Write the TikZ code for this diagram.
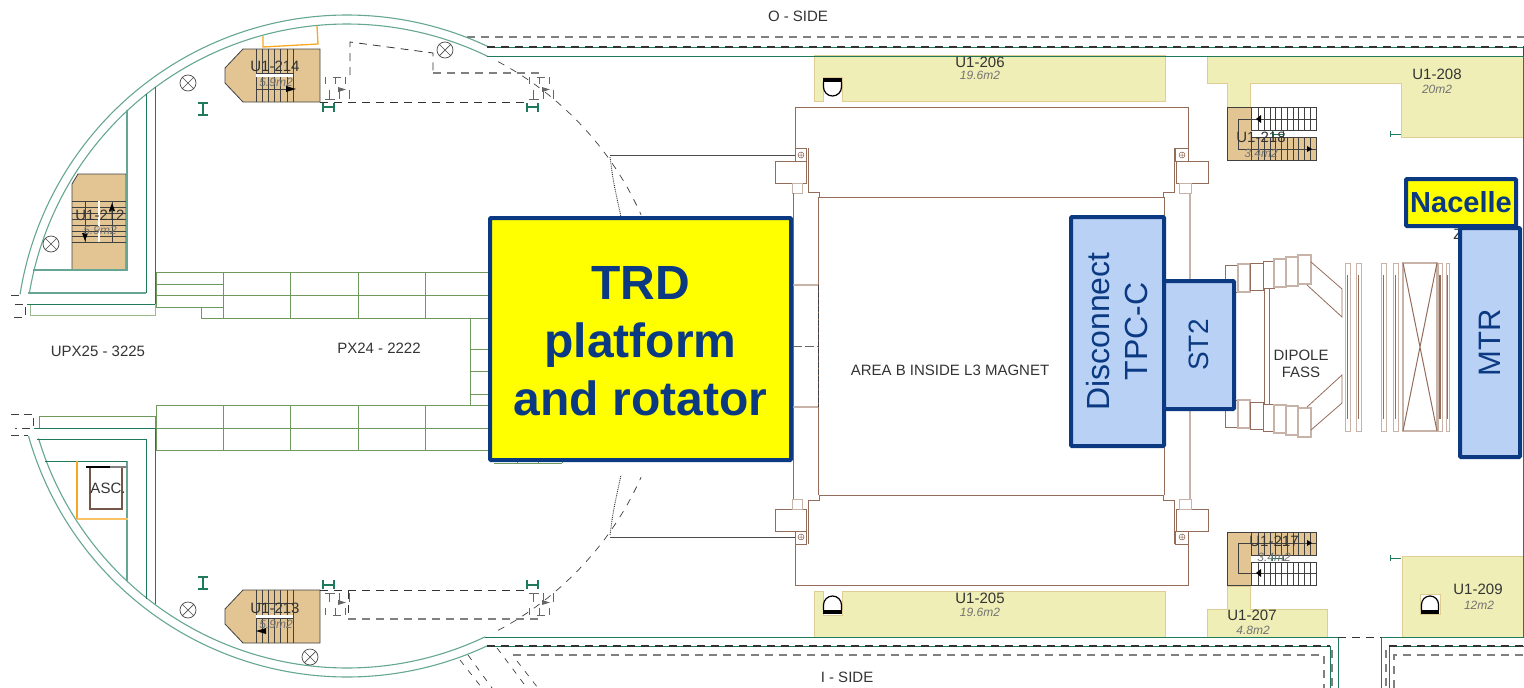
\documentclass[tikz,border=0pt]{standalone}
\usepackage{fontspec}
\setmainfont{Liberation Sans}
\definecolor{navybox}{HTML}{0B3A82}
\definecolor{bluebox}{HTML}{B8D1F5}
\definecolor{boxyellow}{RGB}{255,255,0}
\definecolor{roomyellow}{HTML}{EEEEB6}
\definecolor{stairtan}{HTML}{E3C594}
\definecolor{walldark}{HTML}{1E7A5A}
\definecolor{walllight}{HTML}{66A694}
\definecolor{gridgreen}{HTML}{6E9A5E}
\definecolor{magnetbrown}{HTML}{936C5A}
\definecolor{magnetlight}{HTML}{C8B3A8}
\definecolor{dooryellow}{HTML}{F8A820}
\definecolor{plantext}{HTML}{333333}
\tikzset{
 walld/.style={draw=walldark,line width=0.9pt},
 walll/.style={draw=walllight,line width=1.1pt},
 dimg/.style={draw=walldark,line width=1.3pt},
 gridl/.style={draw=gridgreen,line width=0.9pt},
 brownl/.style={draw=magnetbrown,line width=0.8pt},
 brownw/.style={draw=magnetlight,line width=1.2pt},
 dashl/.style={draw=black!80,line width=0.8pt,dash pattern=on 8pt off 6pt},
 dashg/.style={draw=black!50,line width=1.1pt,dash pattern=on 8pt off 6pt},
 room/.style={fill=roomyellow,draw=roomyellow!70!brown,line width=0.8pt},
 stair/.style={fill=stairtan,draw=black!75,line width=0.8pt},
 thinb/.style={draw=black!75,line width=0.7pt},
 plant/.style={text=plantext,font=\fontsize{15}{17}\selectfont,inner sep=0pt},
 roomt/.style={text=plantext,font=\fontsize{15}{18}\selectfont,inner sep=0pt},
 areat/.style={text=black!55,font=\fontsize{12}{14}\selectfont\itshape,inner sep=0pt},
 yellowbox/.style={draw=navybox,fill=boxyellow,line width=4pt,rounded corners=1pt,text=navybox,inner sep=0pt,align=center},
 blueb/.style={draw=navybox,fill=bluebox,line width=4pt,rounded corners=1pt,text=navybox,inner sep=0pt,align=center,font=\fontsize{32}{38}\selectfont},
}
\begin{document}
\begin{tikzpicture}[x=1pt,y=-1pt]
\useasboundingbox (0,0) rectangle (1524,688);

% rooms that are not mirrored
\draw[room] (1207,56) -- (1207,83) -- (1227,83) -- (1227,107) -- (1250,107) -- (1250,83) -- (1401,83) -- (1401,137) -- (1523,137) -- (1523,56) -- cycle;
\draw[room] (1207,637) -- (1207,609) -- (1227,609) -- (1227,586) -- (1250,586) -- (1250,609) -- (1327,609) -- (1327,637) -- cycle;
\draw[room] (1402,556) rectangle (1523,637);
\draw[fill=white,draw=roomyellow!70!brown] (1420,594) rectangle (1440,614);
\draw[black,line width=1.2pt] (1421.5,610) -- (1421.5,604.5) arc[start angle=180,end angle=0,radius=8.5pt] -- (1438.5,610);
\fill[black] (1421,610) rectangle (1439,614);

% everything above the axis, and its mirror image below
\foreach \s in {1,-1}{
\begin{scope}[shift={(0,346)},yscale=\s,shift={(0,-346)}]
 % room and lift
 \draw[room] (814,591) -- (823,591) -- (823,615) -- (842,615) -- (842,591) -- (1165,591) -- (1165,637) -- (814,637) -- cycle;
 \draw[black,line width=1.2pt] (823.5,610) -- (823.5,605) arc[start angle=180,end angle=0,radius=9pt] -- (841.5,610);
 \fill[black] (823,610) rectangle (842,614);
 % stairs on the left
 \draw[stair] (243,49) -- (320,49) -- (320,102) -- (243,102) -- (225,83) -- (225,68) -- cycle;
 \foreach \x in {256,262,268,274,280,287,293} \draw[thinb] (\x,49) -- (\x,102);
 \fill[white] (256,74) rectangle (293,77);
 \draw[thinb] (256,73.5) -- (293,73.5) (256,89) -- (293,89);
 % small stairs
 \foreach \x in {321,525}{
  \foreach \d in {4,14,24} \draw[thinb,black!60] (\x+\d,77) -- (\x+\d,84) (\x+\d+4,90) -- (\x+\d+4,99);
  \draw[thinb,black!60] (\x+12,77) -- (\x+20,77) (\x+4,99) -- (\x+14,99);
  \fill[black!60] (\x+17,87) -- (\x+25,89.5) -- (\x+17,92) -- cycle;
  \draw[dimg] (\x+2,103) -- (\x+2,112) (\x+13,103) -- (\x+13,112) (\x+2,107) -- (\x+13,107);
 }
 \draw[dimg] (198,103) -- (208,103) (203,103) -- (203,115) (198,115) -- (208,115);
 % dashed outline
 \draw[dashl] (320,102) -- (525,102);
 \draw[thinb,dash pattern=on 7pt off 7pt] (347,346) ++(62:322pt) arc[start angle=62,end angle=24,radius=322pt];
 \draw[black!70,line width=1pt] (610,155) -- (795,155);
 \draw[black!80,line width=0.9pt,densely dotted] (610,157) .. controls (613,180) .. (621,217);
 % magnet corners
 \draw[brownl] (795,148) -- (795,107) -- (1188,107) -- (1188,148);
 \draw[brownl] (795,148) rectangle (806,161) (1175,148) rectangle (1188,161);
 \foreach \x in {801,1182}{
  \draw[brownl,line width=0.5pt] (\x,155) circle (3pt) (\x-3,155) -- (\x+3,155) (\x,152) -- (\x,158);
 }
 \draw[brownl] (775,161) rectangle (806,183) (1176,161) rectangle (1208,183);
 \draw[brownw,line width=0.8pt] (792,183) rectangle (802,193) (1179,183) rectangle (1191,193);
 \draw[brownl] (808,148) -- (808,192) -- (819,192) -- (819,197) -- (1164,197);
 \draw[brownl] (1174,148) -- (1174,192) -- (1163,192) -- (1163,197);
 \draw[brownl] (793,193) -- (793,346) (818,197) -- (818,346) (1164,197) -- (1164,346);
 \draw[brownw] (1190,193) -- (1190,346);
 \draw[brownw] (793,285) -- (818,285);
 % dipole blocks
 \draw[brownl] (1225,265) rectangle (1238,292);
 \draw[brownw] (1238,264) rectangle (1250,292);
 \draw[brownl] (1250,263) rectangle (1263,290);
 \draw[brownl] (1263,261) rectangle (1274,288);
 \draw[brownw] (1274,259) rectangle (1286,287);
 \draw[brownw] (1286,257) rectangle (1298,286);
 \draw[brownw] (1298,255) rectangle (1311,284);
 \draw[brownl] (1311,262) -- (1342,289) -- (1342,317) -- (1307,285);
 % stairs on the right
 \fill[stairtan] (1227,107) rectangle (1251,160);
 \draw[stair] (1251,137) rectangle (1316,160);
 \draw[thinb,fill=white] (1251,107) rectangle (1316,130);
 \draw[thinb] (1227,107) -- (1227,160) -- (1251,160) (1227,107) -- (1251,107);
 \foreach \x in {1258,1264,1270,1275,1281,1287,1293,1298,1304,1310}
  \draw[thinb] (\x,107) -- (\x,130) (\x,137) -- (\x,160);
 \draw[thinb] (1260,119) -- (1238,119) -- (1238,149) -- (1260,149) (1251,149) -- (1316,149) (1251,119) -- (1316,119);
 \fill[black] (1256,119) -- (1261,115) -- (1261,123) -- cycle;
 \fill[black] (1312,149) -- (1307,146) -- (1307,152) -- cycle;
 \draw[dimg,line width=1pt] (1272,131) -- (1272,137) (1283,131) -- (1283,137) (1272,134) -- (1283,134);
 \draw[dimg,line width=1pt] (1390,131) -- (1390,137) (1390,134) -- (1401,134);
\end{scope}}

% dashed outlines that have no mirror image
\draw[dashg] (433,73) -- (540,73);
\draw[dashl] (350,75) -- (350,42) -- (433,53) -- (433,73);
\draw[dashg] (348,619) -- (538,619);
\draw[dashl] (348,591) -- (348,619);

% stair arrows
\fill[black] (296,89) -- (286,86) -- (286,92) -- cycle;
\fill[black] (256,631) -- (266,628) -- (266,634) -- cycle;

% magnet centre
\draw[black!75,line width=0.8pt,dash pattern=on 6pt off 1pt] (818,285) -- (818,407);
\draw[black!60,line width=0.9pt,dash pattern=on 9pt off 3pt] (793,346) -- (818,346);

% dipole columns and plates
\draw[brownl] (1264,288) -- (1264,404) (1269,288) -- (1269,404);
\foreach \x/\w in {1345/5,1356/5,1381/5,1393/5,1438/4,1446/3}{
 \draw[brownw,line width=0.9pt] (\x,263) rectangle (\x+\w,431);
 \draw[magnetbrown,line width=1.6pt] (\x+\w/2,275) -- (\x+\w/2,419);
}
\draw[brownw,line width=1.1pt] (1403,263) rectangle (1437,431);
\draw[brownl,line width=1pt] (1403,263) -- (1437,431) (1437,263) -- (1403,431);

% stair on the far left
\draw[stair] (72,184) -- (78,174) -- (126,174) -- (126,270) -- (72,270) -- cycle;
\foreach \y in {201,207,213,219,225,231,236,242} \draw[thinb] (72,\y) -- (126,\y);
\draw[thinb] (85,201) -- (85,242) (112,201) -- (112,242);
\fill[white] (97.5,201) rectangle (100,242);
\fill[black] (112,203) -- (109,211) -- (115,211) -- cycle;
\fill[black] (85,241) -- (82,233) -- (88,233) -- cycle;

% curved walls
\draw[walll] (347,346) ++(171:331pt) arc[start angle=171,end angle=64.6,radius=331pt];
\draw[walll] (347,346) ++(170.6:322pt) arc[start angle=170.6,end angle=64,radius=322pt];
\draw[walll] (347,346) ++(195.8:331pt) arc[start angle=195.8,end angle=295,radius=331pt];
\draw[walll] (347,346) ++(196.7:322pt) arc[start angle=196.7,end angle=295.4,radius=322pt];

% straight walls on the left
\draw[walll] (127,110) -- (127,270) -- (33,270);
\draw[walld] (146,94) -- (146,293);
\draw[walll] (146,293) -- (28,293);
\draw[walld] (155,87) -- (155,304) -- (27,304);
\draw[gridl,draw=gridgreen!70] (30,305) -- (30,315) -- (155,315) -- (155,304);
\draw[walld] (155,604) -- (155,428) -- (34,428);
\draw[gridl] (39,428) -- (39,416) -- (155,416) -- (155,428);
\draw[walld] (146,599) -- (146,439) -- (37,439);
\draw[walll] (127,581) -- (127,461);
\draw[walld] (127,461) -- (45,461);

% door frames
\draw[dooryellow,line width=1.3pt] (263,36) -- (263,47) -- (318,44) -- (317,26);
\draw[dooryellow,line width=1.6pt] (77,461) -- (77,519);
\draw[dooryellow!70,line width=2.4pt] (77,519) -- (128,519);
\draw[magnetbrown!80!black,line width=1.4pt] (90,467) rectangle (122,509);
\draw[black,line width=1.6pt] (86,467) -- (110,467);
\draw[black!50,line width=1.2pt] (110,467) -- (127,467);

% dashes at the wall openings
\draw[thinb,dash pattern=on 8pt off 5pt] (11,295) -- (24,295) (15,304) -- (25,304) -- (25,317) -- (11,317);
\draw[thinb,dash pattern=on 8pt off 5pt] (11,414) -- (33,414) -- (33,428) -- (15,428) (11,435) -- (28,435);

% corridor grids
\draw[gridl] (156,272) -- (490,272) (156,295) -- (490,295) (201,318) -- (490,318);
\draw[gridl] (156,272) -- (156,307) -- (223,307) (156,284) -- (223,284) (201,307) -- (201,318);
\foreach \x in {223,290,358,425} \draw[gridl] (\x,272) -- (\x,318);
\draw[gridl] (156,405) -- (490,405) (156,428) -- (490,428) (156,450) -- (490,450) (156,405) -- (156,450);
\foreach \x in {223,290,358,425} \draw[gridl] (\x,405) -- (\x,450);
\draw[gridl] (470,318) -- (470,405) (470,349) -- (490,349) (470,371) -- (490,371) (470,394) -- (490,394);
\draw[gridl] (494,463) -- (562,463) (517,458) -- (517,463) (538,458) -- (538,463) (562,458) -- (562,463);

% corridors at top and bottom
\draw[walld] (489,47) -- (1524,47);
\draw[walld] (487,56) -- (1523,56) -- (1523,637) -- (1381,637) -- (1381,688);
\draw[walld] (485,637) -- (1338,637) -- (1338,688);
\draw[walld] (487,646) -- (1330,646) -- (1330,688);
\draw[walld] (1389,688) -- (1389,646) -- (1524,646);
\draw[dashl,line width=1.1pt] (487,47) -- (1524,47) (487,646) -- (1330,646) (1389,646) -- (1524,646);
\draw[dashg] (467,37) -- (1524,37) (513,655) -- (1324,655) -- (1324,688) (1394,688) -- (1394,655) -- (1524,655);
\draw[dashg] (1332,650) -- (1332,688) (1386,650) -- (1386,688);
\draw[dashl] (1338,637) -- (1381,637);
\draw[thinb] (1523,47) -- (1523,56);
\draw[thinb,dash pattern=on 6pt off 7pt] (460,660) -- (482,688) (468,655) -- (492,688) (497,648) -- (527,688) (517,661) -- (538,688);

% lamps
\foreach \p in {(188,83),(51,244),(445,50),(188,610),(310,657)}
 \draw[black!70,line width=0.7pt] \p circle (8pt) +(45:8pt) -- +(225:8pt) +(135:8pt) -- +(-45:8pt);

% plan labels
\node[plant] (oside) at (798,16) {O - SIDE};
\node[plant] (iside) at (847,677) {I - SIDE};
\node[plant] (upx) at (98,351) {UPX25 - 3225};
\node[plant] (px) at (379,348) {PX24 - 2222};
\node[plant] (areab) at (950,370) {AREA B INSIDE L3 MAGNET};
\node[plant,align=center] (dipole) at (1301,364) {DIPOLE\\FASS};
\node[roomt] (asc) at (108,488) {ASC.};
\node[plant] (zmark) at (1458,234) {Z};

% room labels
\node[roomt] (r206) at (980,62) {U1-206};
\node[areat] (a206) at (980,75) {19.6m2};
\node[roomt] (r205) at (980,598) {U1-205};
\node[areat] (a205) at (980,612) {19.6m2};
\node[roomt] (r208) at (1437,74) {U1-208};
\node[areat] (a208) at (1437,89) {20m2};
\node[roomt] (r207) at (1252,615) {U1-207};
\node[areat] (a207) at (1253,630) {4.8m2};
\node[roomt] (r209) at (1478,589) {U1-209};
\node[areat] (a209) at (1479,605) {12m2};
\node[roomt] (r214) at (275,66) {U1-214};
\node[areat] (a214) at (276,82) {5.9m2};
\node[roomt] (r213) at (275,608) {U1-213};
\node[areat] (a213) at (276,624) {5.9m2};
\node[roomt] (r212) at (100,215) {U1-212};
\node[areat] (a212) at (100,230) {5.9m2};
\node[roomt] (r218) at (1261,137) {U1-218};
\node[areat] (a218) at (1261,153) {3.4m2};
\node[roomt] (r217) at (1274,541) {U1-217};
\node[areat] (a217) at (1274,557) {3.4m2};

% big boxes
\node[yellowbox,minimum width=301pt,minimum height=242pt] (trdbox) at (640.5,339) {};
\node[text=navybox,align=center,inner sep=0pt,font=\fontsize{48}{58}\selectfont\bfseries] (trd) at (640.5,341) {TRD\\platform\\and rotator};
\node[blueb,rotate=90,minimum width=229pt,minimum height=93pt] (tpc) at (1117.5,331.5) {Disconnect\\TPC-C};
\node[blueb,rotate=90,minimum width=128pt,minimum height=70pt,font=\fontsize{28}{34}\selectfont] (st2) at (1199,345) {ST2};
\node[blueb,rotate=90,minimum width=229pt,minimum height=60pt,font=\fontsize{31}{38}\selectfont] (mtr) at (1490,342.5) {MTR};
\node[yellowbox,minimum width=110pt,minimum height=47pt,font=\fontsize{29}{34}\selectfont\bfseries] (nacelle) at (1461,202.5) {Nacelle};

\end{tikzpicture}
\end{document}
